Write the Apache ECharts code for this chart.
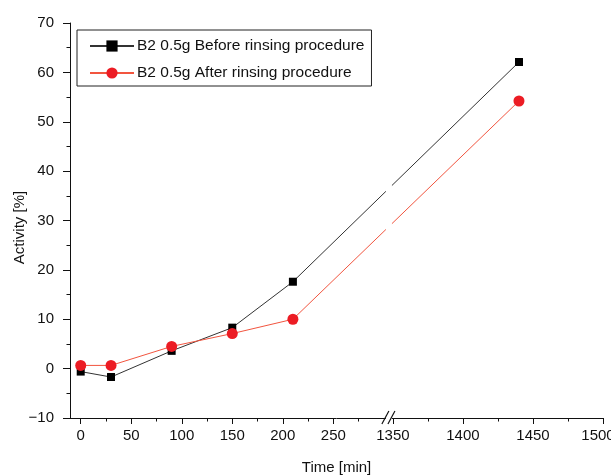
<!DOCTYPE html>
<html>
<head>
<meta charset="utf-8">
<script src="https://cdn.jsdelivr.net/npm/echarts@6/dist/echarts.min.js"></script>
<style>
  html, body { margin: 0; padding: 0; background: #fff; }
  #chart { width: 611px; height: 476px; }
</style>
</head>
<body>
<div id="chart"></div>
<script>
// ---- data ----
const timeMin = [0, 30, 90, 150, 210, 1440];
const beforeRinsing = [-0.6, -1.7, 3.6, 8.3, 17.6, 62.1];
const afterRinsing = [0.65, 0.65, 4.5, 7.1, 10.0, 54.2];
const seriesNames = ['B2 0.5g Before rinsing procedure', 'B2 0.5g After rinsing procedure'];
const xMajorTicks = [0, 50, 100, 150, 200, 250, 1350, 1400, 1450, 1500];
const xMinorTicks = [25, 75, 125, 175, 225, 275, 1375, 1425, 1475];
const xAxisTitle = 'Time [min]';
const yAxisTitle = 'Activity [%]';

// ---- broken x scale (two linear segments) ----
const LEFT_END = 304;        // last time shown before the break
const RIGHT_START = 1350;    // first time shown after the break
const RIGHT_START_U = 309;   // axis position of RIGHT_START
const RIGHT_SCALE = 1.386;   // right segment is stretched vs. left
function toAxis(t) {
  return t <= LEFT_END ? t : RIGHT_START_U + (t - RIGHT_START) * RIGHT_SCALE;
}
const xMinU = -10.6;
const xMaxU = toAxis(1500);
const labelByU = {};
xMajorTicks.forEach(t => { labelByU[toAxis(t).toFixed(4)] = String(t); });

const FONT = 'Liberation Sans, Arial, Helvetica, sans-serif';
const chart = echarts.init(document.getElementById('chart'), null, { renderer: 'canvas' });

function tickAxis(values, len) {
  return {
    type: 'value', min: xMinU, max: xMaxU,
    position: 'bottom', offset: 0,
    axisLine: { show: false, onZero: false },
    axisTick: { show: true, inside: false, length: len, customValues: values.map(toAxis), lineStyle: { color: '#111', width: 1 } },
    axisLabel: { show: false },
    splitLine: { show: false }
  };
}

const option = {
  animation: false,
  backgroundColor: '#fff',
  textStyle: { fontFamily: FONT },
  grid: { left: 70, right: 8, top: 23, bottom: 58, containLabel: false, outerBoundsMode: 'none' },
  legend: {
    orient: 'vertical',
    left: 77, top: 30,
    padding: [8, 7, 5, 12],
    itemWidth: 44, itemHeight: 14, itemGap: 11,
    borderColor: '#222', borderWidth: 1,
    textStyle: { fontFamily: FONT, fontSize: 15.5, color: '#111', padding: [0, 0, 0, -2] },
    data: seriesNames
  },
  xAxis: [{
    type: 'value', min: xMinU, max: xMaxU,
    position: 'bottom',
    name: xAxisTitle, nameLocation: 'middle', nameGap: 42,
    nameTextStyle: { fontFamily: FONT, fontSize: 15, color: '#111' },
    axisLine: { show: true, onZero: false, lineStyle: { color: '#111', width: 1 } },
    axisTick: { show: false },
    axisLabel: {
      show: true, margin: 10, fontFamily: FONT, fontSize: 15, color: '#111',
      customValues: xMajorTicks.map(toAxis),
      formatter: v => {
        const s = labelByU[Number(v).toFixed(4)] || '';
        return s === '1500' ? '{last|' + s + '}' : s;
      },
      rich: { last: { fontFamily: FONT, fontSize: 15, color: '#111', padding: [0, 10, 0, 0] } }
    },
    splitLine: { show: false }
  }, tickAxis(xMajorTicks, 6), tickAxis(xMinorTicks, 3.5)],
  yAxis: {
    type: 'value', min: -10, max: 70, interval: 10,
    name: yAxisTitle, nameLocation: 'middle', nameGap: 43, nameRotate: 90,
    nameMoveOverlap: false,
    nameTextStyle: { fontFamily: FONT, fontSize: 15, color: '#111', padding: [0, 0, 0, -14] },
    axisLine: { show: true, onZero: false, lineStyle: { color: '#111', width: 1 } },
    axisTick: { show: true, inside: false, length: 7, lineStyle: { color: '#111' } },
    minorTick: { show: true, splitNumber: 2, length: 3.5, lineStyle: { color: '#111' } },
    axisLabel: {
      margin: 16, fontFamily: FONT, fontSize: 15, color: '#111',
      formatter: v => (v < 0 ? '\u2212' + Math.abs(v) : String(v))
    },
    splitLine: { show: false }
  },
  series: [{
    name: seriesNames[0], type: 'line',
    data: timeMin.map((t, i) => [toAxis(t), beforeRinsing[i]]),
    symbol: 'rect', symbolSize: 8,
    itemStyle: { color: '#000' },
    lineStyle: { color: '#333', width: 1 },
    z: 3
  }, {
    name: seriesNames[1], type: 'line',
    data: timeMin.map((t, i) => [toAxis(t), afterRinsing[i]]),
    symbol: 'circle', symbolSize: 11,
    itemStyle: { color: '#ec1c24' },
    lineStyle: { color: '#f2553f', width: 1 },
    z: 4
  }]
};
chart.setOption(option);

// ---- axis break decoration ----
const bx0 = chart.convertToPixel({ xAxisIndex: 0 }, toAxis(LEFT_END));
const bx1 = chart.convertToPixel({ xAxisIndex: 0 }, toAxis(RIGHT_START));
const yTop = chart.convertToPixel({ yAxisIndex: 0 }, 70);
const yBot = chart.convertToPixel({ yAxisIndex: 0 }, -10);
chart.setOption({
  graphic: [
    { type: 'rect', z: 100, shape: { x: bx0 - 2, y: yTop - 2, width: bx1 - bx0 + 1, height: yBot - yTop + 5 }, style: { fill: '#fff' } },
    { type: 'line', z: 101, shape: { x1: bx0 - 6, y1: yBot + 6, x2: bx0 + 1, y2: yBot - 7 }, style: { stroke: '#111', lineWidth: 1.2 } },
    { type: 'line', z: 101, shape: { x1: bx1 - 5, y1: yBot + 6, x2: bx1 + 2, y2: yBot - 7 }, style: { stroke: '#111', lineWidth: 1.2 } }
  ]
});
</script>
</body>
</html>
